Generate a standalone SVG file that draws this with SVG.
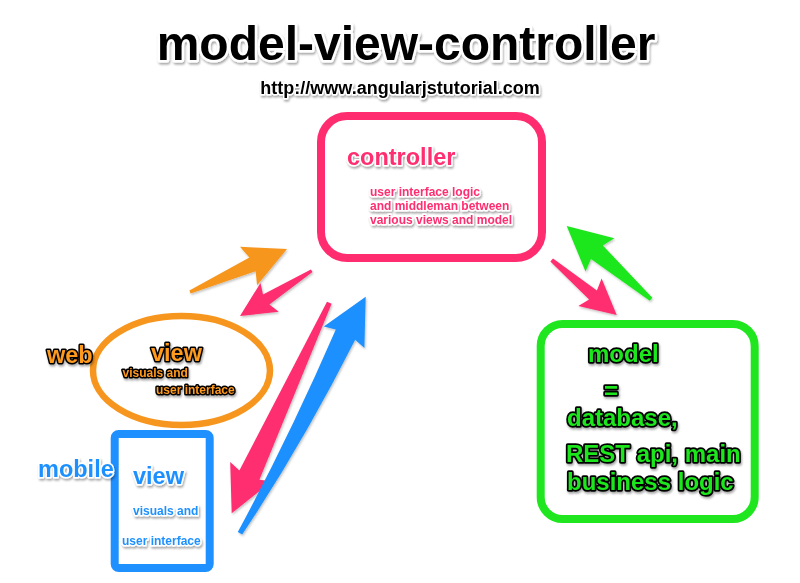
<svg xmlns="http://www.w3.org/2000/svg" width="800" height="583" viewBox="0 0 800 583">
<defs>
<filter id="sh" x="-20%" y="-20%" width="140%" height="160%">
<feDropShadow dx="1" dy="2" stdDeviation="1.2" flood-color="#000" flood-opacity="0.35"/>
</filter>
<filter id="ash" x="-20%" y="-20%" width="140%" height="140%">
<feDropShadow dx="1" dy="1.5" stdDeviation="1" flood-color="#000" flood-opacity="0.25"/>
</filter>
</defs>
<style>
text{font-family:"Liberation Sans",Arial,Helvetica,sans-serif;font-weight:bold;paint-order:stroke;stroke-linejoin:round}
.title{font-size:48px;fill:#000;stroke:#fff;stroke-width:5px}
.url{font-size:18px;fill:#000;stroke:#fff;stroke-width:3px}
.pk{fill:#FF2D6F;stroke:#fff;stroke-width:3px}
.bl{fill:#1E90FF;stroke:#fff;stroke-width:3px}
.or{fill:#FF9A1F;stroke:#000;stroke-width:3px}
.gr{fill:#1FE61F;stroke:#000;stroke-width:3.5px}
.big{font-size:23.5px}
.sm{font-size:12px}
.gb{font-size:24px}
</style>
<rect width="800" height="583" fill="#fff"/>
<g id="title" filter="url(#sh)">
<text class="title" x="406" y="60" text-anchor="middle">model-view-controller</text>
<text class="url" x="400" y="94" text-anchor="middle">http://www.angularjstutorial.com</text>
</g>
<g id="connectors" filter="url(#ash)">
<polygon fill="#F7961E" points="189.4,290.6 249.4,257.5 240,246.8 287,249 257.1,285.3 255.6,271.3 190.6,293.4"/>
<polygon fill="#FF2D6F" points="310.9,269.4 263,294.4 260.5,282.9 240,316 278.7,311.7 269.4,304.5 312.5,272"/>
<polygon fill="#FF2D6F" points="327,301.7 239.4,470.6 230.2,461.9 231.7,513.3 271.9,481.3 259.4,479.8 331.6,303.8"/>
<path fill="#1E90FF" d="M237.8,532.1 Q290,435 335.8,329.5 L323.8,326.5 L365.7,296.7 L364.4,348.1 L355.2,339.8 Q302,445 242.2,534.5 Z"/>
<polygon fill="#1FE61F" points="649.7,300.8 591,259 585.5,271.5 566.7,226 614.4,238.3 602.8,245.4 652.3,297.8"/>
<polygon fill="#FF2D6F" points="553,258.5 596.9,290.4 601.6,278.6 616.7,315 578.3,306.1 589.1,299.6 550.4,261.5"/>
</g>
<g id="controller">
<rect x="321" y="116" width="221" height="142" rx="26" fill="none" stroke="#FF2D6F" stroke-width="8"/>
<g filter="url(#sh)">
<text class="pk big" x="347" y="165">controller</text>
<text class="pk sm" x="370" y="196">user interface logic</text>
<text class="pk sm" x="370" y="210">and middleman between</text>
<text class="pk sm" x="370" y="224">various views and model</text>
</g>
</g>
<g id="web-view">
<ellipse cx="181.5" cy="370.5" rx="88.5" ry="54.5" fill="none" stroke="#F7961E" stroke-width="6.5"/>
<g filter="url(#sh)">
<text class="or big" x="47" y="363">web</text>
<text class="or big" x="151" y="361">view</text>
<text class="or sm" x="122.5" y="377">visuals and</text>
<text class="or sm" x="156" y="394">user interface</text>
</g>
</g>
<g id="mobile-view">
<rect x="114.7" y="434" width="95" height="134" rx="4" fill="none" stroke="#1E90FF" stroke-width="8"/>
<g filter="url(#sh)">
<text class="bl big" x="38" y="477">mobile</text>
<text class="bl big" x="133" y="484">view</text>
<text class="bl sm" x="133" y="515">visuals and</text>
<text class="bl sm" x="122" y="545">user interface</text>
</g>
</g>
<g id="model">
<rect x="540.7" y="324" width="214" height="195" rx="22" fill="none" stroke="#1FE61F" stroke-width="8"/>
<g filter="url(#sh)">
<text class="gr gb" x="588" y="362">model</text>
<text class="gr gb" x="604" y="399">=</text>
<text class="gr gb" x="567" y="426">database,</text>
<text class="gr gb" x="566" y="462">REST api, main</text>
<text class="gr gb" x="567" y="490">business logic</text>
</g>
</g>
</svg>
